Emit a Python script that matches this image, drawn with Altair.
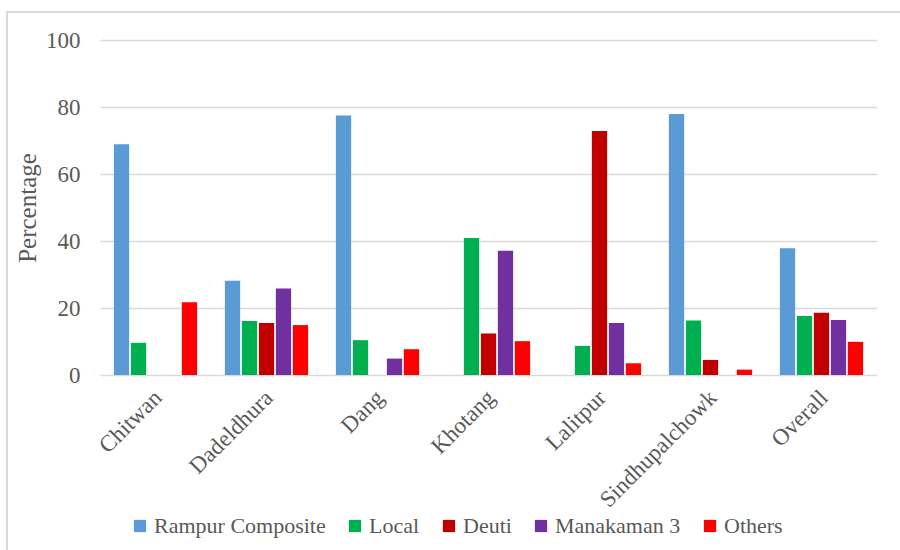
import altair as alt
import pandas as pd

districts = ["Chitwan", "Dadeldhura", "Dang", "Khotang", "Lalitpur", "Sindhupalchowk", "Overall"]
varieties = ["Rampur Composite", "Local", "Deuti", "Manakaman 3", "Others"]
colors = ["#5B9BD5", "#00B050", "#C00000", "#7030A0", "#FF0000"]

rampur = [68.9, 28.1, 77.5, 0.0, 0.0, 77.9, 37.8]
local = [9.6, 16.1, 10.4, 40.9, 8.7, 16.3, 17.6]
deuti = [0.0, 15.5, 0.0, 12.4, 72.8, 4.5, 18.6]
manakaman = [0.0, 25.8, 4.9, 37.1, 15.5, 0.0, 16.4]
others = [21.7, 14.9, 7.7, 10.1, 3.5, 1.6, 9.9]

series = [rampur, local, deuti, manakaman, others]
rows = []
for name, vals in zip(varieties, series):
    for d, v in zip(districts, vals):
        rows.append({"District": d, "Variety": name, "Percentage": v})
df = pd.DataFrame(rows)

FONT = "Liberation Serif"
TEXT = "#595959"

bars = alt.Chart(df).mark_bar().encode(
    x=alt.X("District:N", sort=districts,
            scale=alt.Scale(paddingInner=0.25, paddingOuter=0.125),
            axis=alt.Axis(title=None, labelAngle=-45, labelFontSize=23,
                          labelFont=FONT, labelColor=TEXT, ticks=False,
                          domain=False, labelPadding=11, labelOffset=-5)),
    xOffset=alt.XOffset("Variety:N", sort=varieties,
                        scale=alt.Scale(paddingInner=0.1, paddingOuter=0)),
    y=alt.Y("Percentage:Q", scale=alt.Scale(domain=[0, 100]),
            axis=alt.Axis(title="Percentage", values=[0, 20, 40, 60, 80, 100],
                          titleFont=FONT, titleFontSize=25, titleFontWeight="normal",
                          titleColor=TEXT, titlePadding=5,
                          labelFont=FONT, labelFontSize=23, labelColor=TEXT,
                          labelPadding=20, ticks=False, domain=False,
                          grid=True, gridColor="#d9d9d9", gridWidth=1.5)),
    color=alt.Color("Variety:N", sort=varieties,
                    scale=alt.Scale(domain=varieties, range=colors),
                    legend=alt.Legend(title=None, orient="none", direction="horizontal",
                                      legendX=29, legendY=475,
                                      symbolType="square", symbolSize=150,
                                      symbolStrokeWidth=0,
                                      labelOffset=3, columnPadding=18,
                                      labelLimit=300)),
)

# light outline around the chart area
frame = alt.Chart(alt.Data(values=[{"k": 1}])).mark_rect(
    fill=None, stroke="#d9d9d9", strokeWidth=2
).encode(
    x=alt.value(-93), x2=alt.value(900), y=alt.value(-28), y2=alt.value(600)
)

chart = alt.layer(frame, bars).properties(
    width=777, height=335,
    padding={"left": 100, "top": 40, "right": 23, "bottom": 175},
    autosize=alt.AutoSizeParams(type="none"),
).configure_view(stroke=None).configure_legend(
    labelFont=FONT, labelFontSize=22, labelColor=TEXT
)

chart.save("out.html", embed_options={"renderer": "svg", "actions": False})
